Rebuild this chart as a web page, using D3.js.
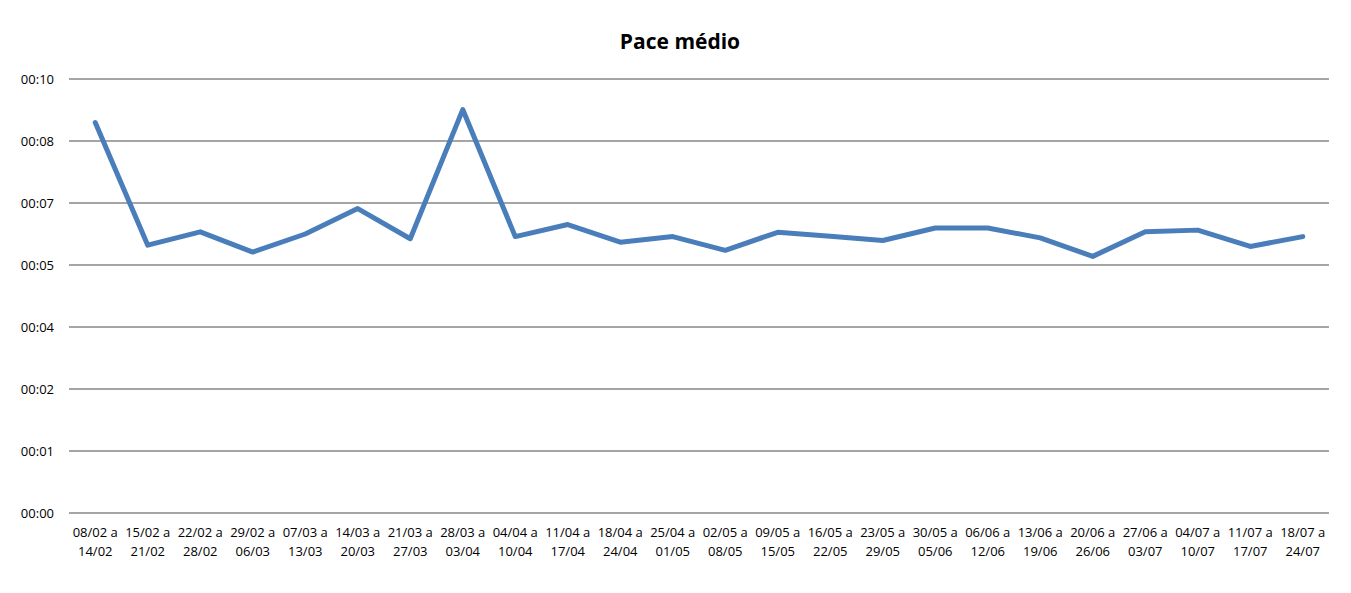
<!DOCTYPE html>
<html>
<head>
<meta charset="utf-8">
<script src="https://cdn.jsdelivr.net/npm/d3@7"></script>
<style>
  body { margin: 0; background: #fff; }
  text { font-family: "Open Sans", "Noto Sans", sans-serif; fill: #000; }
  .grid line { stroke: #878787; stroke-width: 1.6; }
</style>
</head>
<body>
<svg width="1351" height="593"></svg>
<script>
// weekly periods (start, end)
var periodStart = ["08/02", "15/02", "22/02", "29/02", "07/03", "14/03", "21/03", "28/03",
  "04/04", "11/04", "18/04", "25/04", "02/05", "09/05", "16/05", "23/05", "30/05", "06/06",
  "13/06", "20/06", "27/06", "04/07", "11/07", "18/07"];
var periodEnd = ["14/02", "21/02", "28/02", "06/03", "13/03", "20/03", "27/03", "03/04",
  "10/04", "17/04", "24/04", "01/05", "08/05", "15/05", "22/05", "29/05", "05/06", "12/06",
  "19/06", "26/06", "03/07", "10/07", "17/07", "24/07"];
// average pace, minutes per km
var pace = [9.07, 6.22, 6.53, 6.06, 6.48, 7.07, 6.37, 9.37, 6.42, 6.70, 6.29, 6.42,
  6.10, 6.52, 6.43, 6.33, 6.62, 6.62, 6.39, 5.96, 6.53, 6.57, 6.19, 6.42];
// axis steps of 0.001 day (1.44 min), shown as hh:mm
var yTicks = [0, 1.44, 2.88, 4.32, 5.76, 7.2, 8.64, 10.08];
var yTickLabels = ["00:00", "00:01", "00:02", "00:04", "00:05", "00:07", "00:08", "00:10"];

var svg = d3.select("svg"),
    margin = { top: 79, right: 22, bottom: 80, left: 69 },
    width = +svg.attr("width") - margin.left - margin.right,
    height = +svg.attr("height") - margin.top - margin.bottom;

var g = svg.append("g")
    .attr("transform", "translate(" + margin.left + "," + margin.top + ")");

var x = d3.scaleBand().domain(d3.range(periodStart.length)).range([0, width]);
var y = d3.scaleLinear().domain([0, yTicks[yTicks.length - 1]]).range([height, 0]);

// gridlines
g.append("g")
    .attr("class", "grid")
    .selectAll("line")
    .data(yTicks)
    .enter().append("line")
    .attr("x1", 0)
    .attr("x2", width)
    .attr("y1", function (d) { return y(d); })
    .attr("y2", function (d) { return y(d); });

// y axis labels
var yAxis = d3.axisLeft(y)
    .tickValues(yTicks)
    .tickSize(0)
    .tickPadding(15)
    .tickFormat(function (d, i) { return yTickLabels[i]; });
var ya = g.append("g").call(yAxis);
ya.select(".domain").remove();
ya.selectAll("text").style("font-size", "13px").attr("font-family", null);

// x axis labels (two lines)
var xa = g.append("g").attr("transform", "translate(0," + height + ")");
var lab = xa.selectAll("text")
    .data(periodStart)
    .enter().append("text")
    .attr("text-anchor", "middle")
    .style("font-size", "13px")
    .attr("x", function (d, i) { return x(i) + x.bandwidth() / 2; })
    .attr("y", 24);
lab.append("tspan")
    .attr("x", function (d, i) { return x(i) + x.bandwidth() / 2; })
    .text(function (d) { return d + " a"; });
lab.append("tspan")
    .attr("x", function (d, i) { return x(i) + x.bandwidth() / 2; })
    .attr("dy", 18.7)
    .text(function (d, i) { return periodEnd[i]; });

// line
var line = d3.line()
    .x(function (d, i) { return x(i) + x.bandwidth() / 2; })
    .y(function (d) { return y(d); });
g.append("path")
    .datum(pace)
    .attr("fill", "none")
    .attr("stroke", "#4a7ebb")
    .attr("stroke-width", 5)
    .attr("stroke-linejoin", "round")
    .attr("stroke-linecap", "round")
    .attr("d", line);

// title
svg.append("text")
    .attr("x", 680)
    .attr("y", 49)
    .attr("text-anchor", "middle")
    .style("font-size", "21px")
    .style("font-weight", "bold")
    .text("Pace médio");
</script>
</body>
</html>
